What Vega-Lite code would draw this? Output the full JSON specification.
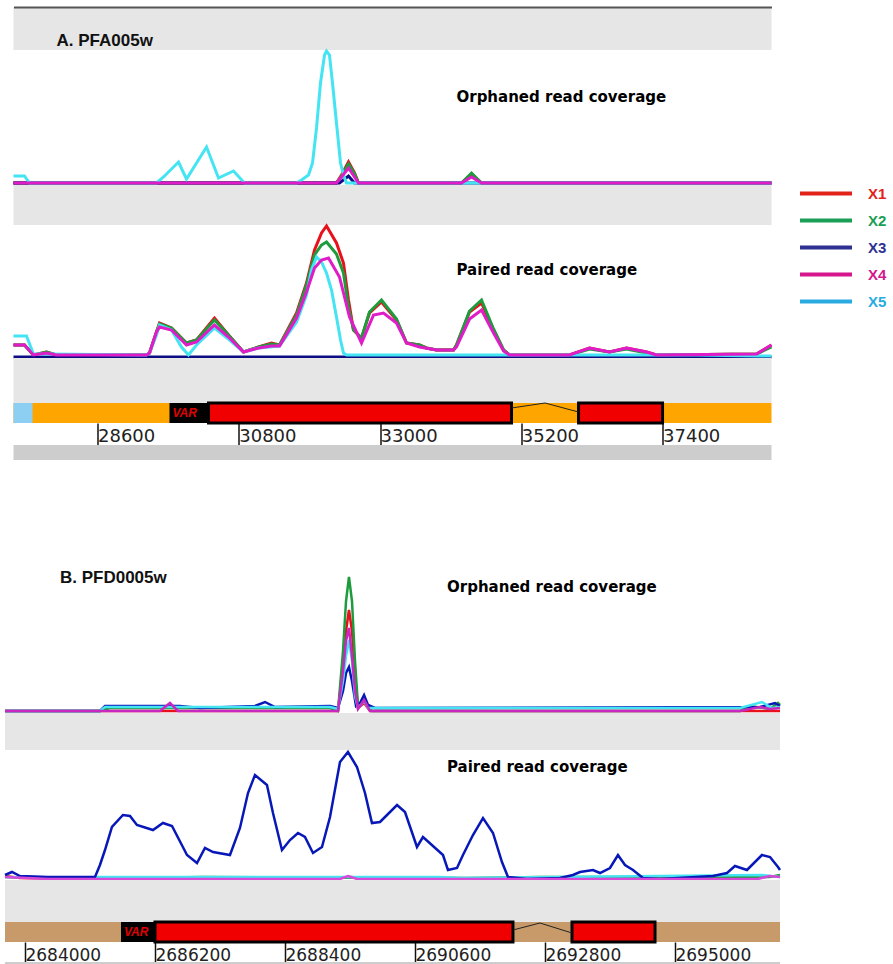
{
"$schema": "https://vega.github.io/schema/vega-lite/v6.json",
"padding": {"left": 0, "top": 7, "right": 0, "bottom": 0},
"background": "white",
"config": {"view": {"stroke": null}, "concat": {"spacing": 0}},
"datasets": {
"aOrph": [
{"s":"X1","x":27292,"y":0},{"s":"X1","x":32322,"y":0},{"s":"X1","x":32400,"y":8},{"s":"X1","x":32509,"y":21},{"s":"X1","x":32603,"y":10},{"s":"X1","x":32665,"y":0},{"s":"X1","x":34269,"y":0},{"s":"X1","x":34425,"y":9},{"s":"X1","x":34581,"y":0},{"s":"X1","x":39097,"y":0},
{"s":"X2","x":27292,"y":0},{"s":"X2","x":32322,"y":0},{"s":"X2","x":32400,"y":7},{"s":"X2","x":32509,"y":19},{"s":"X2","x":32603,"y":9},{"s":"X2","x":32665,"y":0},{"s":"X2","x":34269,"y":0},{"s":"X2","x":34425,"y":10},{"s":"X2","x":34581,"y":0},{"s":"X2","x":39097,"y":0},
{"s":"X3","x":27292,"y":0},{"s":"X3","x":32369,"y":0},{"s":"X3","x":32509,"y":7},{"s":"X3","x":32603,"y":0},{"s":"X3","x":39097,"y":0},
{"s":"X5","x":27292,"y":7},{"s":"X5","x":27463,"y":7},{"s":"X5","x":27541,"y":0},{"s":"X5","x":29519,"y":0},{"s":"X5","x":29628,"y":6},{"s":"X5","x":29862,"y":21},{"s":"X5","x":29986,"y":4},{"s":"X5","x":30298,"y":36},{"s":"X5","x":30485,"y":5},{"s":"X5","x":30718,"y":12},{"s":"X5","x":30890,"y":0},{"s":"X5","x":31700,"y":0},{"s":"X5","x":31777,"y":3},{"s":"X5","x":31886,"y":8},{"s":"X5","x":31949,"y":20},{"s":"X5","x":32011,"y":55},{"s":"X5","x":32073,"y":100},{"s":"X5","x":32136,"y":128},{"s":"X5","x":32167,"y":132},{"s":"X5","x":32213,"y":128},{"s":"X5","x":32260,"y":100},{"s":"X5","x":32322,"y":60},{"s":"X5","x":32385,"y":20},{"s":"X5","x":32431,"y":8},{"s":"X5","x":32478,"y":0},{"s":"X5","x":39097,"y":0},
{"s":"X4","x":27292,"y":0},{"s":"X4","x":32322,"y":0},{"s":"X4","x":32400,"y":6},{"s":"X4","x":32509,"y":15},{"s":"X4","x":32603,"y":6},{"s":"X4","x":32665,"y":0},{"s":"X4","x":34269,"y":0},{"s":"X4","x":34425,"y":6},{"s":"X4","x":34581,"y":0},{"s":"X4","x":39097,"y":0}
],
"aPair": [
{"s":"X1","x":27292,"y":12},{"s":"X1","x":27463,"y":12},{"s":"X1","x":27603,"y":2},{"s":"X1","x":27806,"y":5},{"s":"X1","x":27961,"y":2},{"s":"X1","x":29363,"y":2},{"s":"X1","x":29410,"y":4},{"s":"X1","x":29519,"y":25},{"s":"X1","x":29566,"y":34},{"s":"X1","x":29753,"y":29},{"s":"X1","x":29986,"y":14},{"s":"X1","x":30142,"y":17},{"s":"X1","x":30422,"y":39},{"s":"X1","x":30640,"y":22},{"s":"X1","x":30874,"y":5},{"s":"X1","x":31108,"y":10},{"s":"X1","x":31310,"y":14},{"s":"X1","x":31435,"y":12},{"s":"X1","x":31700,"y":44},{"s":"X1","x":31855,"y":74},{"s":"X1","x":31980,"y":107},{"s":"X1","x":32089,"y":124},{"s":"X1","x":32167,"y":131},{"s":"X1","x":32322,"y":114},{"s":"X1","x":32431,"y":94},{"s":"X1","x":32509,"y":57},{"s":"X1","x":32587,"y":27},{"s":"X1","x":32712,"y":19},{"s":"X1","x":32836,"y":44},{"s":"X1","x":33023,"y":55},{"s":"X1","x":33257,"y":37},{"s":"X1","x":33413,"y":14},{"s":"X1","x":33615,"y":12},{"s":"X1","x":33724,"y":9},{"s":"X1","x":33880,"y":7},{"s":"X1","x":34145,"y":7},{"s":"X1","x":34191,"y":12},{"s":"X1","x":34394,"y":45},{"s":"X1","x":34581,"y":54},{"s":"X1","x":34768,"y":27},{"s":"X1","x":34924,"y":7},{"s":"X1","x":35017,"y":2},{"s":"X1","x":35951,"y":2},{"s":"X1","x":36263,"y":9},{"s":"X1","x":36574,"y":5},{"s":"X1","x":36839,"y":9},{"s":"X1","x":37151,"y":5},{"s":"X1","x":37307,"y":2},{"s":"X1","x":38864,"y":3},{"s":"X1","x":39097,"y":12},
{"s":"X2","x":27292,"y":12},{"s":"X2","x":27463,"y":12},{"s":"X2","x":27603,"y":2},{"s":"X2","x":27806,"y":5},{"s":"X2","x":27961,"y":2},{"s":"X2","x":29363,"y":2},{"s":"X2","x":29410,"y":4},{"s":"X2","x":29519,"y":25},{"s":"X2","x":29566,"y":33},{"s":"X2","x":29753,"y":29},{"s":"X2","x":29986,"y":14},{"s":"X2","x":30142,"y":17},{"s":"X2","x":30422,"y":37},{"s":"X2","x":30640,"y":22},{"s":"X2","x":30874,"y":5},{"s":"X2","x":31108,"y":10},{"s":"X2","x":31310,"y":13},{"s":"X2","x":31435,"y":12},{"s":"X2","x":31700,"y":42},{"s":"X2","x":31855,"y":72},{"s":"X2","x":31980,"y":102},{"s":"X2","x":32089,"y":112},{"s":"X2","x":32167,"y":115},{"s":"X2","x":32322,"y":103},{"s":"X2","x":32431,"y":84},{"s":"X2","x":32509,"y":50},{"s":"X2","x":32587,"y":27},{"s":"X2","x":32712,"y":19},{"s":"X2","x":32836,"y":45},{"s":"X2","x":33023,"y":57},{"s":"X2","x":33257,"y":38},{"s":"X2","x":33413,"y":14},{"s":"X2","x":33615,"y":12},{"s":"X2","x":33724,"y":9},{"s":"X2","x":33880,"y":7},{"s":"X2","x":34145,"y":7},{"s":"X2","x":34191,"y":12},{"s":"X2","x":34394,"y":46},{"s":"X2","x":34581,"y":57},{"s":"X2","x":34768,"y":28},{"s":"X2","x":34924,"y":7},{"s":"X2","x":35017,"y":2},{"s":"X2","x":35951,"y":2},{"s":"X2","x":36263,"y":8},{"s":"X2","x":36574,"y":5},{"s":"X2","x":36839,"y":8},{"s":"X2","x":37151,"y":4},{"s":"X2","x":37307,"y":2},{"s":"X2","x":38864,"y":3},{"s":"X2","x":39097,"y":10},
{"s":"X3","x":27292,"y":0},{"s":"X3","x":39097,"y":0},
{"s":"X5","x":27292,"y":21},{"s":"X5","x":27494,"y":21},{"s":"X5","x":27603,"y":3},{"s":"X5","x":27806,"y":3},{"s":"X5","x":29363,"y":2},{"s":"X5","x":29410,"y":4},{"s":"X5","x":29519,"y":22},{"s":"X5","x":29566,"y":32},{"s":"X5","x":29753,"y":27},{"s":"X5","x":29908,"y":10},{"s":"X5","x":30017,"y":2},{"s":"X5","x":30142,"y":12},{"s":"X5","x":30422,"y":29},{"s":"X5","x":30640,"y":18},{"s":"X5","x":30874,"y":5},{"s":"X5","x":31108,"y":9},{"s":"X5","x":31435,"y":11},{"s":"X5","x":31700,"y":35},{"s":"X5","x":31855,"y":62},{"s":"X5","x":31933,"y":87},{"s":"X5","x":32011,"y":100},{"s":"X5","x":32089,"y":95},{"s":"X5","x":32167,"y":84},{"s":"X5","x":32245,"y":67},{"s":"X5","x":32322,"y":40},{"s":"X5","x":32385,"y":17},{"s":"X5","x":32431,"y":4},{"s":"X5","x":32478,"y":2},{"s":"X5","x":37930,"y":2},{"s":"X5","x":38864,"y":1},{"s":"X5","x":39097,"y":1},
{"s":"X4","x":27292,"y":12},{"s":"X4","x":27463,"y":12},{"s":"X4","x":27603,"y":2},{"s":"X4","x":27806,"y":4},{"s":"X4","x":27961,"y":2},{"s":"X4","x":29363,"y":2},{"s":"X4","x":29410,"y":4},{"s":"X4","x":29519,"y":25},{"s":"X4","x":29566,"y":30},{"s":"X4","x":29753,"y":27},{"s":"X4","x":29986,"y":12},{"s":"X4","x":30142,"y":15},{"s":"X4","x":30422,"y":32},{"s":"X4","x":30640,"y":20},{"s":"X4","x":30874,"y":5},{"s":"X4","x":31108,"y":9},{"s":"X4","x":31310,"y":11},{"s":"X4","x":31435,"y":11},{"s":"X4","x":31700,"y":39},{"s":"X4","x":31855,"y":65},{"s":"X4","x":31980,"y":89},{"s":"X4","x":32089,"y":97},{"s":"X4","x":32198,"y":99},{"s":"X4","x":32369,"y":80},{"s":"X4","x":32525,"y":40},{"s":"X4","x":32712,"y":14},{"s":"X4","x":32899,"y":42},{"s":"X4","x":33054,"y":44},{"s":"X4","x":33257,"y":34},{"s":"X4","x":33413,"y":14},{"s":"X4","x":33615,"y":10},{"s":"X4","x":33880,"y":7},{"s":"X4","x":34145,"y":7},{"s":"X4","x":34191,"y":10},{"s":"X4","x":34394,"y":38},{"s":"X4","x":34581,"y":47},{"s":"X4","x":34768,"y":24},{"s":"X4","x":34924,"y":6},{"s":"X4","x":35017,"y":2},{"s":"X4","x":35951,"y":2},{"s":"X4","x":36263,"y":9},{"s":"X4","x":36574,"y":5},{"s":"X4","x":36839,"y":9},{"s":"X4","x":37151,"y":5},{"s":"X4","x":37307,"y":2},{"s":"X4","x":38864,"y":3},{"s":"X4","x":39097,"y":12}
],
"bOrph": [
{"s":"X1","x":2683662,"y":0},{"s":"X1","x":2689297,"y":0},{"s":"X1","x":2689382,"y":45},{"s":"X1","x":2689433,"y":80},{"s":"X1","x":2689483,"y":101},{"s":"X1","x":2689534,"y":80},{"s":"X1","x":2689585,"y":35},{"s":"X1","x":2689636,"y":3},{"s":"X1","x":2689738,"y":8},{"s":"X1","x":2689839,"y":0},{"s":"X1","x":2696777,"y":0},
{"s":"X2","x":2683662,"y":0},{"s":"X2","x":2685269,"y":0},{"s":"X2","x":2685438,"y":3},{"s":"X2","x":2689162,"y":3},{"s":"X2","x":2689297,"y":0},{"s":"X2","x":2689382,"y":60},{"s":"X2","x":2689433,"y":110},{"s":"X2","x":2689483,"y":134},{"s":"X2","x":2689534,"y":110},{"s":"X2","x":2689585,"y":50},{"s":"X2","x":2689636,"y":5},{"s":"X2","x":2689687,"y":8},{"s":"X2","x":2689738,"y":12},{"s":"X2","x":2689805,"y":4},{"s":"X2","x":2689872,"y":0},{"s":"X2","x":2696100,"y":0},{"s":"X2","x":2696269,"y":5},{"s":"X2","x":2696608,"y":2},{"s":"X2","x":2696743,"y":8},{"s":"X2","x":2696777,"y":6},
{"s":"X3","x":2683662,"y":0},{"s":"X3","x":2685269,"y":0},{"s":"X3","x":2685354,"y":5},{"s":"X3","x":2686623,"y":5},{"s":"X3","x":2686962,"y":3},{"s":"X3","x":2687892,"y":5},{"s":"X3","x":2688062,"y":9},{"s":"X3","x":2688231,"y":4},{"s":"X3","x":2689162,"y":5},{"s":"X3","x":2689297,"y":3},{"s":"X3","x":2689382,"y":20},{"s":"X3","x":2689433,"y":38},{"s":"X3","x":2689483,"y":44},{"s":"X3","x":2689534,"y":30},{"s":"X3","x":2689602,"y":5},{"s":"X3","x":2689670,"y":8},{"s":"X3","x":2689738,"y":16},{"s":"X3","x":2689805,"y":6},{"s":"X3","x":2689923,"y":3},{"s":"X3","x":2696438,"y":4},{"s":"X3","x":2696692,"y":8},{"s":"X3","x":2696777,"y":5},
{"s":"X5","x":2683662,"y":0},{"s":"X5","x":2685269,"y":0},{"s":"X5","x":2685354,"y":4},{"s":"X5","x":2689162,"y":4},{"s":"X5","x":2689297,"y":2},{"s":"X5","x":2689382,"y":30},{"s":"X5","x":2689433,"y":55},{"s":"X5","x":2689483,"y":71},{"s":"X5","x":2689534,"y":50},{"s":"X5","x":2689585,"y":15},{"s":"X5","x":2689636,"y":3},{"s":"X5","x":2689738,"y":10},{"s":"X5","x":2689805,"y":3},{"s":"X5","x":2696100,"y":3},{"s":"X5","x":2696472,"y":9},{"s":"X5","x":2696641,"y":3},{"s":"X5","x":2696777,"y":4},
{"s":"X4","x":2683662,"y":0},{"s":"X4","x":2686285,"y":0},{"s":"X4","x":2686454,"y":8},{"s":"X4","x":2686589,"y":0},{"s":"X4","x":2689297,"y":0},{"s":"X4","x":2689382,"y":40},{"s":"X4","x":2689433,"y":70},{"s":"X4","x":2689483,"y":83},{"s":"X4","x":2689534,"y":55},{"s":"X4","x":2689585,"y":20},{"s":"X4","x":2689636,"y":2},{"s":"X4","x":2689738,"y":11},{"s":"X4","x":2689839,"y":0},{"s":"X4","x":2696100,"y":0},{"s":"X4","x":2696438,"y":4},{"s":"X4","x":2696608,"y":2},{"s":"X4","x":2696777,"y":3}
],
"bPair": [
{"s":"X1","x":2683662,"y":3},{"s":"X1","x":2683915,"y":1},{"s":"X1","x":2685185,"y":0},{"s":"X1","x":2686200,"y":1},{"s":"X1","x":2689000,"y":0},{"s":"X1","x":2689500,"y":2},{"s":"X1","x":2690000,"y":0},{"s":"X1","x":2696500,"y":2},{"s":"X1","x":2696777,"y":3},
{"s":"X2","x":2683662,"y":2},{"s":"X2","x":2684389,"y":1},{"s":"X2","x":2686000,"y":1},{"s":"X2","x":2687000,"y":2},{"s":"X2","x":2691500,"y":1},{"s":"X2","x":2692700,"y":2},{"s":"X2","x":2696600,"y":2},{"s":"X2","x":2696777,"y":4},
{"s":"X5","x":2683662,"y":2},{"s":"X5","x":2684389,"y":1},{"s":"X5","x":2685269,"y":2},{"s":"X5","x":2691000,"y":2},{"s":"X5","x":2691400,"y":1},{"s":"X5","x":2696472,"y":4},{"s":"X5","x":2696777,"y":2},
{"s":"X3","x":2683662,"y":4},{"s":"X3","x":2683780,"y":7},{"s":"X3","x":2683915,"y":3},{"s":"X3","x":2684389,"y":2},{"s":"X3","x":2685185,"y":2},{"s":"X3","x":2685269,"y":14},{"s":"X3","x":2685354,"y":29},{"s":"X3","x":2685472,"y":52},{"s":"X3","x":2685658,"y":64},{"s":"X3","x":2685777,"y":63},{"s":"X3","x":2685895,"y":54},{"s":"X3","x":2686166,"y":49},{"s":"X3","x":2686335,"y":56},{"s":"X3","x":2686488,"y":53},{"s":"X3","x":2686742,"y":24},{"s":"X3","x":2686911,"y":16},{"s":"X3","x":2687046,"y":31},{"s":"X3","x":2687182,"y":27},{"s":"X3","x":2687469,"y":24},{"s":"X3","x":2687638,"y":51},{"s":"X3","x":2687774,"y":86},{"s":"X3","x":2687892,"y":104},{"s":"X3","x":2688095,"y":94},{"s":"X3","x":2688197,"y":66},{"s":"X3","x":2688349,"y":29},{"s":"X3","x":2688485,"y":39},{"s":"X3","x":2688620,"y":46},{"s":"X3","x":2688738,"y":42},{"s":"X3","x":2688874,"y":26},{"s":"X3","x":2689026,"y":32},{"s":"X3","x":2689162,"y":62},{"s":"X3","x":2689331,"y":117},{"s":"X3","x":2689466,"y":127},{"s":"X3","x":2689618,"y":112},{"s":"X3","x":2689754,"y":86},{"s":"X3","x":2689872,"y":56},{"s":"X3","x":2690008,"y":57},{"s":"X3","x":2690296,"y":74},{"s":"X3","x":2690431,"y":67},{"s":"X3","x":2690634,"y":32},{"s":"X3","x":2690735,"y":42},{"s":"X3","x":2691074,"y":24},{"s":"X3","x":2691158,"y":9},{"s":"X3","x":2691311,"y":11},{"s":"X3","x":2691412,"y":24},{"s":"X3","x":2691581,"y":44},{"s":"X3","x":2691751,"y":61},{"s":"X3","x":2691920,"y":46},{"s":"X3","x":2692072,"y":17},{"s":"X3","x":2692174,"y":2},{"s":"X3","x":2692495,"y":0},{"s":"X3","x":2693054,"y":1},{"s":"X3","x":2693274,"y":4},{"s":"X3","x":2693392,"y":7},{"s":"X3","x":2693612,"y":9},{"s":"X3","x":2693731,"y":6},{"s":"X3","x":2693900,"y":11},{"s":"X3","x":2694035,"y":24},{"s":"X3","x":2694154,"y":14},{"s":"X3","x":2694289,"y":9},{"s":"X3","x":2694458,"y":1},{"s":"X3","x":2694746,"y":0},{"s":"X3","x":2695643,"y":3},{"s":"X3","x":2695880,"y":6},{"s":"X3","x":2696015,"y":13},{"s":"X3","x":2696218,"y":9},{"s":"X3","x":2696472,"y":24},{"s":"X3","x":2696608,"y":22},{"s":"X3","x":2696743,"y":12},{"s":"X3","x":2696777,"y":9},
{"s":"X4","x":2683662,"y":2},{"s":"X4","x":2684389,"y":0},{"s":"X4","x":2689331,"y":0},{"s":"X4","x":2689466,"y":3},{"s":"X4","x":2689618,"y":0},{"s":"X4","x":2696400,"y":0},{"s":"X4","x":2696600,"y":3},{"s":"X4","x":2696777,"y":2}
],
"genesA": [{"start":29721,"end":35048,"red":30329,"label":"VAR"},{"start":36092,"end":37400,"red":36092,"label":""}],
"genesB": [{"start":2685625,"end":2692258,"red":2686200,"label":"VAR"},{"start":2693257,"end":2694662,"red":2693257,"label":""}],
"legendItems": [{"s":"X1"},{"s":"X2"},{"s":"X3"},{"s":"X4"},{"s":"X5"}]
},
"resolve": {"scale": {"color": "independent"}},
"spacing": 13,
"hconcat": [
{
"spacing": 0,
"center": true,
"bounds": "flush",
"resolve": {"scale": {"color": "independent"}},
"vconcat": [
{
"width": 758, "height": 43, "view": {"fill": "#e6e6e6"},
"data": {"values": [{"t": "A. PFA005w"}]},
"mark": {"type": "text", "font": "Liberation Sans", "fontWeight": "bold", "fontSize": 17, "align": "left", "baseline": "middle", "color": "#111"},
"encoding": {
"x": {"datum": 27962, "type": "quantitative", "scale": {"domain": [27292, 39097], "nice": false, "zero": false}, "axis": {"orient": "top", "domain": true, "domainColor": "#555", "domainWidth": 2, "ticks": false, "labels": false, "grid": false, "title": null}},
"y": {"datum": 9, "type": "quantitative", "scale": {"domain": [0, 43], "nice": false, "zero": false}, "axis": null},
"text": {"field": "t"}
}
},
{
"width": 758, "height": 135, "view": {"fill": "white"},
"layer": [
{"data": {"name": "aOrph"}, "mark": {"type": "line", "strokeWidth": 3},
"encoding": {
"x": {"field": "x", "type": "quantitative", "scale": {"domain": [27292, 39097], "nice": false, "zero": false}, "axis": null},
"y": {"field": "y", "type": "quantitative", "scale": {"domain": [-2, 133], "nice": false, "zero": false}, "axis": null},
"color": {"field": "s", "type": "nominal", "scale": {"domain": ["X1","X2","X3","X4","X5"], "range": ["#e8101a","#1c9c3c","#0c0c84","#e01cc8","#44e4f2"]}, "legend": null}
}},
{"data": {"values": [{"t": "Orphaned read coverage"}]},
"mark": {"type": "text", "font": "DejaVu Sans", "fontWeight": "bold", "fontSize": 15, "align": "left", "baseline": "middle", "color": "#000"},
"encoding": {
"x": {"datum": 34191, "type": "quantitative", "scale": {"domain": [27292, 39097], "nice": false, "zero": false}, "axis": null},
"y": {"datum": 86, "type": "quantitative", "scale": {"domain": [-2, 133], "nice": false, "zero": false}, "axis": null},
"text": {"field": "t"}
}}
]
},
{"width": 758, "height": 40, "view": {"fill": "#e6e6e6"}, "data": {"values": []}, "mark": "text"},
{
"width": 758, "height": 133, "view": {"fill": "white"},
"layer": [
{"data": {"name": "aPair"}, "mark": {"type": "line", "strokeWidth": 3},
"encoding": {
"x": {"field": "x", "type": "quantitative", "scale": {"domain": [27292, 39097], "nice": false, "zero": false}, "axis": null},
"y": {"field": "y", "type": "quantitative", "scale": {"domain": [-1, 132], "nice": false, "zero": false}, "axis": null},
"color": {"field": "s", "type": "nominal", "scale": {"domain": ["X1","X2","X3","X4","X5"], "range": ["#e8101a","#1c9c3c","#0c0c84","#e01cc8","#44e4f2"]}, "legend": null}
}},
{"data": {"values": [{"t": "Paired read coverage"}]},
"mark": {"type": "text", "font": "DejaVu Sans", "fontWeight": "bold", "fontSize": 15, "align": "left", "baseline": "middle", "color": "#000"},
"encoding": {
"x": {"datum": 34191, "type": "quantitative", "scale": {"domain": [27292, 39097], "nice": false, "zero": false}, "axis": null},
"y": {"datum": 87, "type": "quantitative", "scale": {"domain": [-1, 132], "nice": false, "zero": false}, "axis": null},
"text": {"field": "t"}
}}
]
},
{"width": 758, "height": 45, "view": {"fill": "#e6e6e6"}, "data": {"values": []}, "mark": "text"},
{
"width": 758, "height": 20, "view": {"fill": "#ffa500"},
"layer": [
{"data": {"values": [{"start": 27292, "end": 27588}]}, "mark": {"type": "rect", "fill": "#8ccff2"},
"encoding": {
"x": {"field": "start", "type": "quantitative", "scale": {"domain": [27292, 39097], "nice": false, "zero": false},
"axis": {"orient": "bottom", "values": [28600, 30800, 33000, 35200, 37400], "format": "d", "domain": false, "grid": false, "title": null, "tickSize": 22, "tickColor": "#111", "tickWidth": 1.5, "labelAlign": "left", "labelBaseline": "top", "labelPadding": -18, "labelDx": 4, "labelFont": "DejaVu Sans", "labelFontSize": 18, "labelColor": "#222", "labelFlush": false, "labelOverlap": false, "labelBound": false}},
"x2": {"field": "end"}
}},
{"data": {"name": "genesA"}, "mark": {"type": "rect", "fill": "#000"},
"encoding": {
"x": {"field": "start", "type": "quantitative", "scale": {"domain": [27292, 39097], "nice": false, "zero": false},
"axis": {"orient": "bottom", "values": [28600, 30800, 33000, 35200, 37400], "format": "d", "domain": false, "grid": false, "title": null, "tickSize": 22, "tickColor": "#111", "tickWidth": 1.5, "labelAlign": "left", "labelBaseline": "top", "labelPadding": -18, "labelDx": 4, "labelFont": "DejaVu Sans", "labelFontSize": 18, "labelColor": "#222", "labelFlush": false, "labelOverlap": false, "labelBound": false}},
"x2": {"field": "end"}
}},
{"data": {"name": "genesA"}, "mark": {"type": "rect", "fill": "#f00000", "stroke": "#000", "strokeWidth": 3},
"encoding": {
"x": {"field": "red", "type": "quantitative", "scale": {"domain": [27292, 39097], "nice": false, "zero": false},
"axis": {"orient": "bottom", "values": [28600, 30800, 33000, 35200, 37400], "format": "d", "domain": false, "grid": false, "title": null, "tickSize": 22, "tickColor": "#111", "tickWidth": 1.5, "labelAlign": "left", "labelBaseline": "top", "labelPadding": -18, "labelDx": 4, "labelFont": "DejaVu Sans", "labelFontSize": 18, "labelColor": "#222", "labelFlush": false, "labelOverlap": false, "labelBound": false}},
"x2": {"field": "end"}
}},
{"data": {"name": "genesA"}, "mark": {"type": "text", "align": "left", "baseline": "middle", "dx": 3, "color": "#e00000", "font": "Liberation Sans", "fontStyle": "italic", "fontWeight": "bold", "fontSize": 12},
"encoding": {
"x": {"field": "start", "type": "quantitative", "scale": {"domain": [27292, 39097], "nice": false, "zero": false},
"axis": {"orient": "bottom", "values": [28600, 30800, 33000, 35200, 37400], "format": "d", "domain": false, "grid": false, "title": null, "tickSize": 22, "tickColor": "#111", "tickWidth": 1.5, "labelAlign": "left", "labelBaseline": "top", "labelPadding": -18, "labelDx": 4, "labelFont": "DejaVu Sans", "labelFontSize": 18, "labelColor": "#222", "labelFlush": false, "labelOverlap": false, "labelBound": false}},
"text": {"field": "label"}
}},
{"data": {"values": [{"start": 35048, "y": 0.75}, {"start": 35570, "y": 1}, {"start": 36092, "y": 0.55}]}, "mark": {"type": "line", "color": "#222", "strokeWidth": 1},
"encoding": {
"x": {"field": "start", "type": "quantitative", "scale": {"domain": [27292, 39097], "nice": false, "zero": false},
"axis": {"orient": "bottom", "values": [28600, 30800, 33000, 35200, 37400], "format": "d", "domain": false, "grid": false, "title": null, "tickSize": 22, "tickColor": "#111", "tickWidth": 1.5, "labelAlign": "left", "labelBaseline": "top", "labelPadding": -18, "labelDx": 4, "labelFont": "DejaVu Sans", "labelFontSize": 18, "labelColor": "#222", "labelFlush": false, "labelOverlap": false, "labelBound": false}},
"y": {"field": "y", "type": "quantitative", "scale": {"domain": [0, 1], "nice": false, "zero": false}, "axis": null}
}}
]
},
{"width": 758, "height": 22, "data": {"values": []}, "mark": "text"},
{"width": 758, "height": 15, "view": {"fill": "#cdcdcd"}, "data": {"values": []}, "mark": "text"},
{"width": 758, "height": 100, "data": {"values": []}, "mark": "text"},
{
"width": 775, "height": 153, "view": {"fill": "white"},
"layer": [
{"data": {"name": "bOrph"}, "mark": {"type": "line", "strokeWidth": 2.5},
"encoding": {
"x": {"field": "x", "type": "quantitative", "scale": {"domain": [2683662, 2696777], "nice": false, "zero": false}, "axis": null},
"y": {"field": "y", "type": "quantitative", "scale": {"domain": [-2, 151], "nice": false, "zero": false}, "axis": null},
"color": {"field": "s", "type": "nominal", "scale": {"domain": ["X1","X2","X3","X4","X5"], "range": ["#e8101a","#1c9c3c","#0818b8","#c828c0","#44e4f2"]}, "legend": null}
}},
{"data": {"values": [{"t": "B. PFD0005w"}]},
"mark": {"type": "text", "font": "Liberation Sans", "fontWeight": "bold", "fontSize": 17, "align": "left", "baseline": "middle", "color": "#111"},
"encoding": {
"x": {"datum": 2684592, "type": "quantitative", "scale": {"domain": [2683662, 2696777], "nice": false, "zero": false}, "axis": null},
"y": {"datum": 133, "type": "quantitative", "scale": {"domain": [-2, 151], "nice": false, "zero": false}, "axis": null},
"text": {"field": "t"}
}},
{"data": {"values": [{"t": "Orphaned read coverage"}]},
"mark": {"type": "text", "font": "DejaVu Sans", "fontWeight": "bold", "fontSize": 15, "align": "left", "baseline": "middle", "color": "#000"},
"encoding": {
"x": {"datum": 2691142, "type": "quantitative", "scale": {"domain": [2683662, 2696777], "nice": false, "zero": false}, "axis": null},
"y": {"datum": 124, "type": "quantitative", "scale": {"domain": [-2, 151], "nice": false, "zero": false}, "axis": null},
"text": {"field": "t"}
}}
]
},
{"width": 775, "height": 37, "view": {"fill": "#e6e6e6"}, "data": {"values": []}, "mark": "text"},
{
"width": 775, "height": 130, "view": {"fill": "white"},
"layer": [
{"data": {"name": "bPair"}, "mark": {"type": "line", "strokeWidth": 2.5},
"encoding": {
"x": {"field": "x", "type": "quantitative", "scale": {"domain": [2683662, 2696777], "nice": false, "zero": false}, "axis": null},
"y": {"field": "y", "type": "quantitative", "scale": {"domain": [-1, 129], "nice": false, "zero": false}, "axis": null},
"color": {"field": "s", "type": "nominal", "scale": {"domain": ["X1","X2","X3","X4","X5"], "range": ["#e8101a","#1c9c3c","#0818b8","#d848d8","#44e4f2"]}, "legend": null}
}},
{"data": {"values": [{"t": "Paired read coverage"}]},
"mark": {"type": "text", "font": "DejaVu Sans", "fontWeight": "bold", "fontSize": 15, "align": "left", "baseline": "middle", "color": "#000"},
"encoding": {
"x": {"datum": 2691142, "type": "quantitative", "scale": {"domain": [2683662, 2696777], "nice": false, "zero": false}, "axis": null},
"y": {"datum": 112, "type": "quantitative", "scale": {"domain": [-1, 129], "nice": false, "zero": false}, "axis": null},
"text": {"field": "t"}
}}
]
},
{"width": 775, "height": 42, "view": {"fill": "#e6e6e6"}, "data": {"values": []}, "mark": "text"},
{
"width": 775, "height": 20, "view": {"fill": "#c89a6a"},
"layer": [
{"data": {"name": "genesB"}, "mark": {"type": "rect", "fill": "#000"},
"encoding": {
"x": {"field": "start", "type": "quantitative", "scale": {"domain": [2683662, 2696777], "nice": false, "zero": false},
"axis": {"orient": "bottom", "values": [2684000, 2686200, 2688400, 2690600, 2692800, 2695000], "format": "d", "domain": false, "grid": false, "title": null, "tickSize": 20, "tickColor": "#111", "tickWidth": 1.5, "labelAlign": "left", "labelBaseline": "top", "labelPadding": -15, "labelDx": 5, "labelFont": "DejaVu Sans", "labelFontSize": 17, "labelColor": "#222", "labelFlush": false, "labelOverlap": false, "labelBound": false}},
"x2": {"field": "end"}
}},
{"data": {"name": "genesB"}, "mark": {"type": "rect", "fill": "#f00000", "stroke": "#000", "strokeWidth": 3},
"encoding": {
"x": {"field": "red", "type": "quantitative", "scale": {"domain": [2683662, 2696777], "nice": false, "zero": false},
"axis": {"orient": "bottom", "values": [2684000, 2686200, 2688400, 2690600, 2692800, 2695000], "format": "d", "domain": false, "grid": false, "title": null, "tickSize": 20, "tickColor": "#111", "tickWidth": 1.5, "labelAlign": "left", "labelBaseline": "top", "labelPadding": -15, "labelDx": 5, "labelFont": "DejaVu Sans", "labelFontSize": 17, "labelColor": "#222", "labelFlush": false, "labelOverlap": false, "labelBound": false}},
"x2": {"field": "end"}
}},
{"data": {"name": "genesB"}, "mark": {"type": "text", "align": "left", "baseline": "middle", "dx": 3, "color": "#e00000", "font": "Liberation Sans", "fontStyle": "italic", "fontWeight": "bold", "fontSize": 12},
"encoding": {
"x": {"field": "start", "type": "quantitative", "scale": {"domain": [2683662, 2696777], "nice": false, "zero": false},
"axis": {"orient": "bottom", "values": [2684000, 2686200, 2688400, 2690600, 2692800, 2695000], "format": "d", "domain": false, "grid": false, "title": null, "tickSize": 20, "tickColor": "#111", "tickWidth": 1.5, "labelAlign": "left", "labelBaseline": "top", "labelPadding": -15, "labelDx": 5, "labelFont": "DejaVu Sans", "labelFontSize": 17, "labelColor": "#222", "labelFlush": false, "labelOverlap": false, "labelBound": false}},
"text": {"field": "label"}
}},
{"data": {"values": [{"start": 2692258, "y": 0.6}, {"start": 2692715, "y": 0.95}, {"start": 2693257, "y": 0.45}]}, "mark": {"type": "line", "color": "#222", "strokeWidth": 1},
"encoding": {
"x": {"field": "start", "type": "quantitative", "scale": {"domain": [2683662, 2696777], "nice": false, "zero": false},
"axis": {"orient": "bottom", "values": [2684000, 2686200, 2688400, 2690600, 2692800, 2695000], "format": "d", "domain": false, "grid": false, "title": null, "tickSize": 20, "tickColor": "#111", "tickWidth": 1.5, "labelAlign": "left", "labelBaseline": "top", "labelPadding": -15, "labelDx": 5, "labelFont": "DejaVu Sans", "labelFontSize": 17, "labelColor": "#222", "labelFlush": false, "labelOverlap": false, "labelBound": false}},
"y": {"field": "y", "type": "quantitative", "scale": {"domain": [0, 1], "nice": false, "zero": false}, "axis": null}
}}
]
},
{"width": 775, "height": 20, "data": {"values": []}, "mark": "text"},
{"width": 775, "height": 2, "view": {"fill": "#cdcdcd"}, "data": {"values": []}, "mark": "text"}
]
},
{
"spacing": 0,
"bounds": "flush",
"resolve": {"scale": {"color": "independent"}},
"vconcat": [
{"width": 90, "height": 173, "data": {"values": []}, "mark": "text"},
{
"width": 90, "height": 135,
"data": {"name": "legendItems"},
"layer": [
{"mark": {"type": "rule", "strokeWidth": 4},
"encoding": {
"x": {"datum": 0, "type": "quantitative", "scale": {"domain": [0, 90], "nice": false, "zero": false}, "axis": null},
"x2": {"datum": 52},
"y": {"field": "s", "type": "nominal", "scale": {"type": "point", "padding": 0.5}, "axis": null},
"color": {"field": "s", "type": "nominal", "scale": {"domain": ["X1","X2","X3","X4","X5"], "range": ["#e2231a","#1b9e55","#2e3192","#d6168c","#29abe2"]}, "legend": null}
}},
{"mark": {"type": "text", "align": "left", "baseline": "middle", "font": "Liberation Sans", "fontWeight": "bold", "fontSize": 15},
"encoding": {
"x": {"datum": 68, "type": "quantitative", "scale": {"domain": [0, 90], "nice": false, "zero": false}, "axis": null},
"y": {"field": "s", "type": "nominal", "scale": {"type": "point", "padding": 0.5}, "axis": null},
"text": {"field": "s"},
"color": {"field": "s", "type": "nominal", "scale": {"domain": ["X1","X2","X3","X4","X5"], "range": ["#e2231a","#1b9e55","#2e3192","#d6168c","#29abe2"]}, "legend": null}
}}
]
}
]
}
]
}
